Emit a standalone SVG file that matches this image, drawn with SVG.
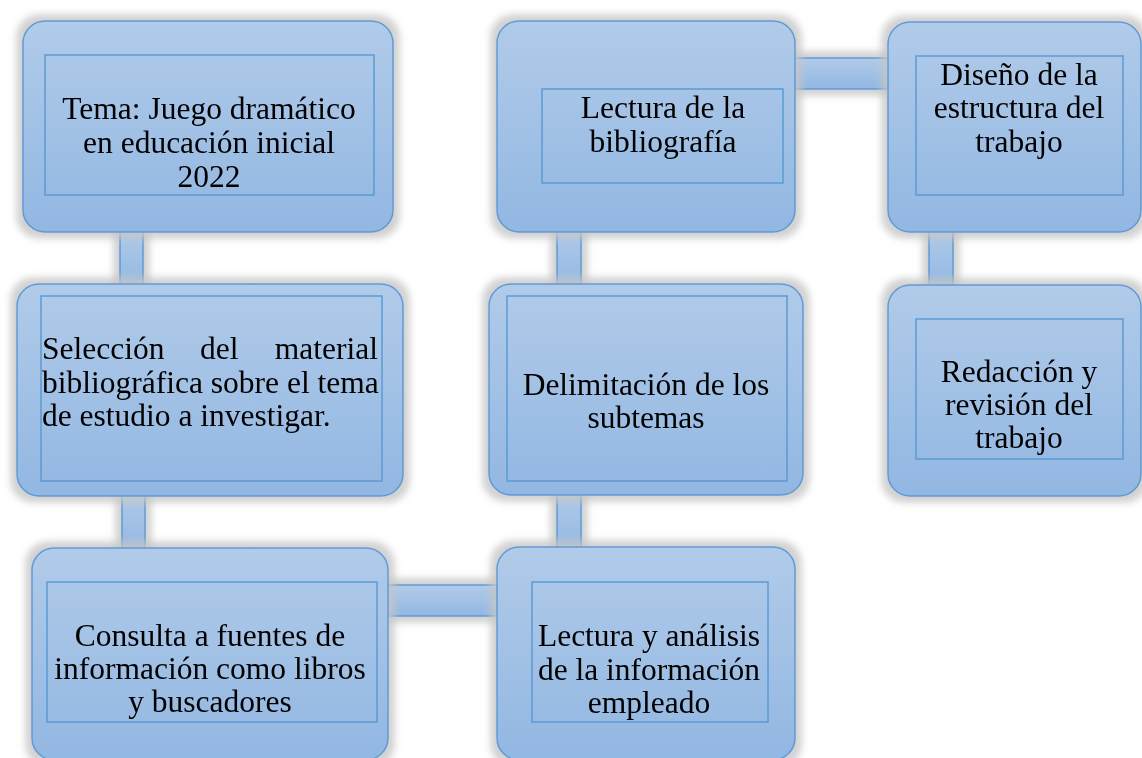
<svg xmlns="http://www.w3.org/2000/svg" width="1142" height="758" viewBox="0 0 1142 758">
<defs>
<linearGradient id="g" x1="0" y1="0" x2="0" y2="1">
<stop offset="0" stop-color="#b1cbe9"/>
<stop offset="1" stop-color="#92b7e2"/>
</linearGradient>
<filter id="sh" x="-20%" y="-20%" width="140%" height="140%">
<feMorphology in="SourceAlpha" operator="dilate" radius="6" result="d"/>
<feGaussianBlur in="d" stdDeviation="3.5" result="b"/>
<feFlood flood-color="#c6c6c6" flood-opacity="0.8"/>
<feComposite in2="b" operator="in" result="s"/>
<feMerge><feMergeNode in="s"/><feMergeNode in="SourceGraphic"/></feMerge>
</filter>
<style>
.box{fill:url(#g);stroke:#5b9bd5;stroke-width:1.5}
.in{fill:none;stroke:#5b9bd5;stroke-width:1.5}
.con{fill:url(#g);stroke:#5b9bd5;stroke-width:1.5}
text{font-family:"Liberation Serif","Times New Roman",serif;font-size:31.5px;fill:#000}
.c{text-anchor:middle}
</style>
</defs>
<rect width="1142" height="758" fill="#fff"/>
<g id="connectors" filter="url(#sh)">
<rect class="con" x="120" y="228" width="23" height="60"/>
<rect class="con" x="122" y="492" width="23" height="60"/>
<rect class="con" x="557" y="228" width="24" height="60"/>
<rect class="con" x="557" y="492" width="24" height="60"/>
<rect class="con" x="929" y="228" width="24" height="60"/>
<rect class="con" x="791" y="58" width="101" height="31"/>
<rect class="con" x="384" y="585" width="117" height="31"/>
</g>
<g id="n1" filter="url(#sh)">
<rect class="box" x="23" y="21" width="370" height="211" rx="22"/>
<rect class="in" x="45" y="55" width="329" height="140"/>
<text class="c" x="209" y="119">Tema: Juego dramático</text>
<text class="c" x="209" y="153">en educación inicial</text>
<text class="c" x="209" y="187">2022</text>
</g>
<g id="n2" filter="url(#sh)">
<rect class="box" x="17" y="284" width="386" height="212" rx="22"/>
<rect class="in" x="41" y="296" width="341" height="185"/>
<text x="42" y="359">Selección</text>
<text x="200" y="359">del</text>
<text x="378" y="359" text-anchor="end">material</text>
<text x="42" y="393">bibliográfica sobre el tema</text>
<text x="42" y="426">de estudio a investigar.</text>
</g>
<g id="n3" filter="url(#sh)">
<rect class="box" x="497" y="21" width="298" height="211" rx="22"/>
<rect class="in" x="542" y="89" width="241" height="94"/>
<text class="c" x="663" y="118">Lectura de la</text>
<text class="c" x="663" y="152">bibliografía</text>
</g>
<g id="n4" filter="url(#sh)">
<rect class="box" x="888" y="22" width="253" height="210" rx="22"/>
<rect class="in" x="916" y="56" width="207" height="139"/>
<text class="c" x="1019" y="85">Diseño de la</text>
<text class="c" x="1019" y="118">estructura del</text>
<text class="c" x="1019" y="152">trabajo</text>
</g>
<g id="n5" filter="url(#sh)">
<rect class="box" x="888" y="285" width="253" height="211" rx="22"/>
<rect class="in" x="916" y="319" width="207" height="140"/>
<text class="c" x="1019" y="382">Redacción y</text>
<text class="c" x="1019" y="415">revisión del</text>
<text class="c" x="1019" y="448">trabajo</text>
</g>
<g id="n6" filter="url(#sh)">
<rect class="box" x="489" y="284" width="314" height="211" rx="22"/>
<rect class="in" x="507" y="296" width="280" height="185"/>
<text class="c" x="646" y="395">Delimitación de los</text>
<text class="c" x="646" y="428">subtemas</text>
</g>
<g id="n7" filter="url(#sh)">
<rect class="box" x="32" y="548" width="356" height="212" rx="22"/>
<rect class="in" x="47" y="582" width="330" height="140"/>
<text class="c" x="210" y="646">Consulta a fuentes de</text>
<text class="c" x="210" y="679">información como libros</text>
<text class="c" x="210" y="712">y buscadores</text>
</g>
<g id="n8" filter="url(#sh)">
<rect class="box" x="497" y="547" width="298" height="213" rx="22"/>
<rect class="in" x="532" y="582" width="236" height="140"/>
<text class="c" x="649" y="646">Lectura y análisis</text>
<text class="c" x="649" y="680">de la información</text>
<text class="c" x="649" y="713">empleado</text>
</g>
</svg>
